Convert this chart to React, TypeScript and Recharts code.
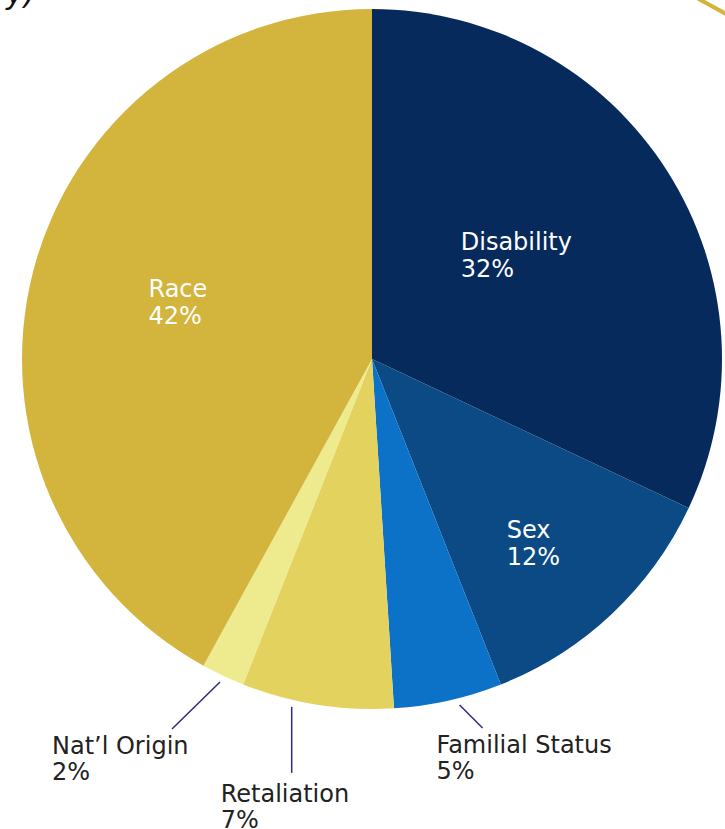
import { PieChart, Pie, Cell } from "recharts";

// complaint bases, clockwise from 12 o'clock
const categories = ["Disability", "Sex", "Familial Status", "Retaliation", "Nat\u2019l Origin", "Race"];
const shares = [32, 12, 5, 7, 2, 42];
const sliceColors = ["#062a5c", "#0b4a84", "#0b72c8", "#e4d25e", "#eeea8e", "#d3b43c"];

const data = categories.map((name, i) => ({ name, value: shares[i] }));

const RADIAN = Math.PI / 180;
const FONT = "'DejaVu Sans', sans-serif";

// where each label sits relative to its slice
type Place =
  | { kind: "inside"; r: number; dx: number; dy: number }
  | { kind: "outside"; shift: number; gap: number; lx: number; ly: number; tx: number; ty: number };

const placement: Record<string, Place> = {
  Disability: { kind: "inside", r: 0.5, dx: -59, dy: -15 },
  Sex: { kind: "inside", r: 0.6, dx: -9, dy: 26 },
  Race: { kind: "inside", r: 0.5, dx: -54, dy: -18 },
  "Familial Status": { kind: "outside", shift: -1.6, gap: 7, lx: 23, ly: 23, tx: -46, ty: 25 },
  Retaliation: { kind: "outside", shift: 4, gap: 7, lx: 0, ly: 66, tx: -71, ty: 29 },
  "Nat\u2019l Origin": { kind: "outside", shift: 0, gap: 7, lx: -48, ly: 47, tx: -120, ty: 25 },
};

function polar(cx: number, cy: number, r: number, angle: number) {
  return { x: cx + r * Math.cos(-angle * RADIAN), y: cy + r * Math.sin(-angle * RADIAN) };
}

function SliceLabel(props: any) {
  const { cx, cy, midAngle, outerRadius, index } = props;
  const name = categories[index];
  const pct = `${shares[index]}%`;
  const p = placement[name];
  if (!p) return null;

  if (p.kind === "inside") {
    const pt = polar(cx, cy, outerRadius * p.r, midAngle);
    const x = pt.x + p.dx;
    const y = pt.y + p.dy;
    return (
      <text x={x} y={y} fill="#ffffff" fontSize={24} fontFamily={FONT} textAnchor="start">
        <tspan x={x}>{name}</tspan>
        <tspan x={x} dy={27}>{pct}</tspan>
      </text>
    );
  }

  const start = polar(cx, cy, outerRadius + p.gap, midAngle - p.shift);
  const end = { x: start.x + p.lx, y: start.y + p.ly };
  const x = end.x + p.tx;
  const y = end.y + p.ty;
  return (
    <g>
      <line x1={start.x} y1={start.y} x2={end.x} y2={end.y} stroke="#2e2a7e" strokeWidth={1.5} />
      <text x={x} y={y} fill="#222222" fontSize={24} fontFamily={FONT} textAnchor="start">
        <tspan x={x}>{name}</tspan>
        <tspan x={x} dy={26}>{pct}</tspan>
      </text>
    </g>
  );
}

export default function App() {
  return (
    <div style={{ position: "absolute", left: 0, top: 0, width: 725, height: 829, background: "#fff", overflow: "hidden" }}>
      <div
        style={{
          position: "absolute",
          left: 6,
          top: -24,
          fontFamily: FONT,
          fontStyle: "italic",
          fontSize: 30,
          color: "#111",
        }}
      >
        y)
      </div>
      <svg width={725} height={829} style={{ position: "absolute", left: 0, top: 0 }}>
        <line x1={697} y1={-2} x2={728} y2={15} stroke="#d3b43c" strokeWidth={4} />
      </svg>
      <div style={{ position: "absolute", left: 0, top: 0 }}>
        <PieChart width={725} height={829} margin={{ top: 0, right: 0, bottom: 0, left: 0 }}>
          <Pie
            data={data}
            dataKey="value"
            nameKey="name"
            cx={372}
            cy={359}
            outerRadius={350}
            startAngle={90}
            endAngle={-270}
            stroke="none"
            label={SliceLabel}
            labelLine={false}
            isAnimationActive={false}
          >
            {data.map((d, i) => (
              <Cell key={d.name} fill={sliceColors[i]} />
            ))}
          </Pie>
        </PieChart>
      </div>
    </div>
  );
}
